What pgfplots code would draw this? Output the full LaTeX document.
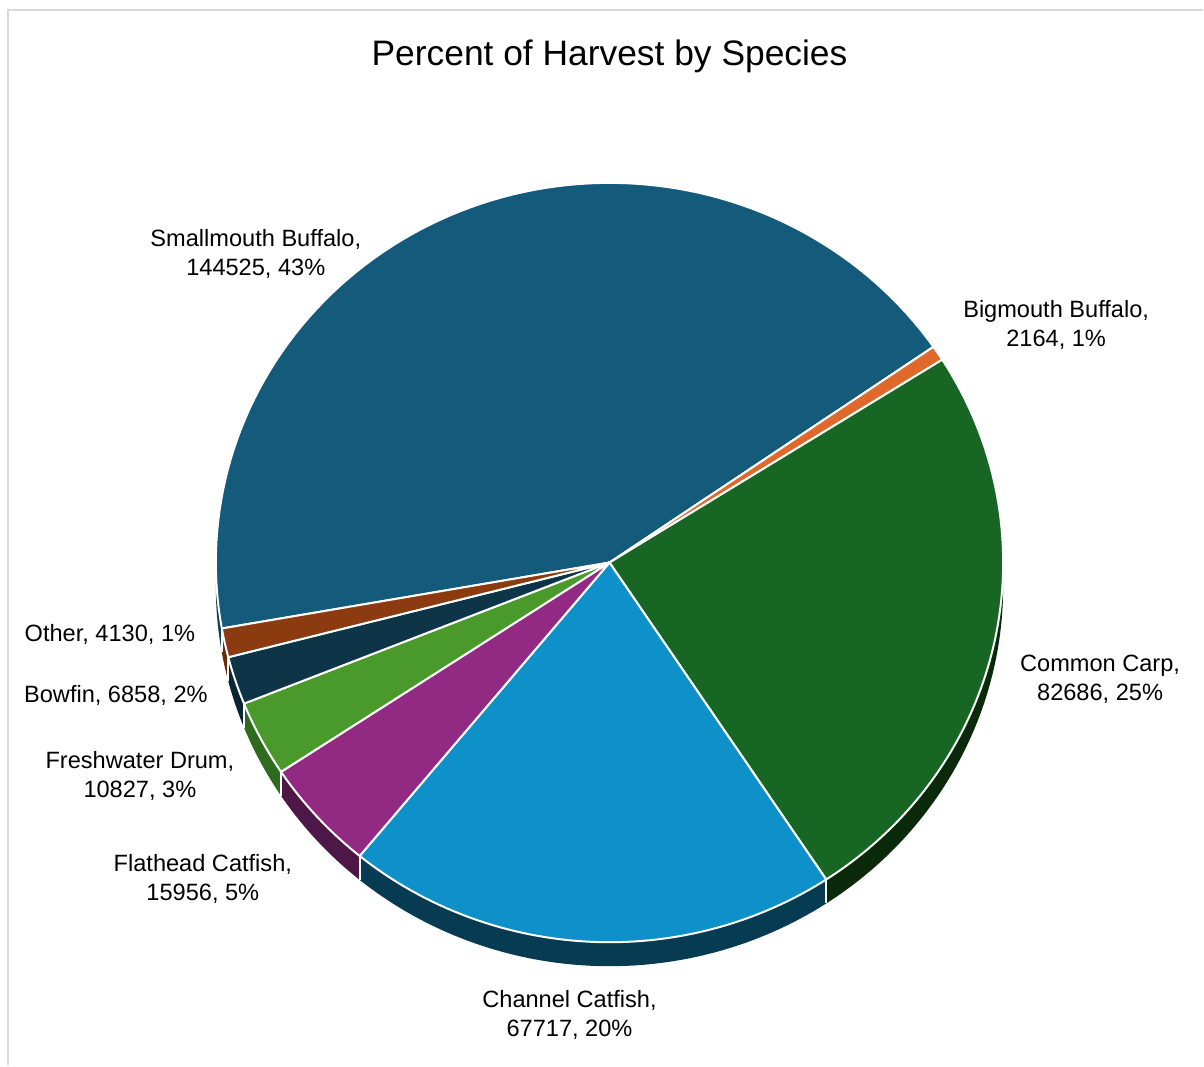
\documentclass[border=0pt]{standalone}
\usepackage{pgfplots}
\pgfplotsset{compat=1.18}
\usepackage{fontspec}
\setmainfont{Liberation Sans}

% ---- data (harvest by species) ----
\def\vSM{144525}  % Smallmouth Buffalo
\def\vBM{2164}    % Bigmouth Buffalo
\def\vCC{82686}   % Common Carp
\def\vCH{67717}   % Channel Catfish
\def\vFC{15956}   % Flathead Catfish
\def\vFD{10827}   % Freshwater Drum
\def\vBF{6858}    % Bowfin
\def\vOT{4130}    % Other
\edef\vTot{\fpeval{\vSM+\vBM+\vCC+\vCH+\vFC+\vFD+\vBF+\vOT}}
% slice boundaries (degrees, clockwise from 190)
\edef\bA{190}
\edef\bB{\fpeval{round(\bA-360*\vSM/\vTot,4)}}
\edef\bC{\fpeval{round(\bB-360*\vBM/\vTot,4)}}
\edef\bD{\fpeval{round(\bC-360*\vCC/\vTot,4)}}
\edef\bE{\fpeval{round(\bD-360*\vCH/\vTot,4)}}
\edef\bF{\fpeval{round(\bE-360*\vFC/\vTot,4)}}
\edef\bG{\fpeval{round(\bF-360*\vFD/\vTot,4)}}
\edef\bH{\fpeval{round(\bG-360*\vBF/\vTot,4)}}
\edef\bI{\fpeval{round(\bH-360*\vOT/\vTot,4)}}

\definecolor{cSM}{HTML}{135A7B}
\definecolor{cBM}{HTML}{E0682A}
\definecolor{cCC}{HTML}{186623}
\definecolor{cCH}{HTML}{0E91C8}
\definecolor{cFC}{HTML}{922983}
\definecolor{cFD}{HTML}{4A9A2B}
\definecolor{cBF}{HTML}{0E3447}
\definecolor{cOT}{HTML}{8C3A10}
\definecolor{wSM}{HTML}{0D3E55}
\definecolor{wCC}{HTML}{0B2A0C}
\definecolor{wCH}{HTML}{063B52}
\definecolor{wFC}{HTML}{4D1747}
\definecolor{wFD}{HTML}{2F6B1F}
\definecolor{wBF}{HTML}{0A2535}
\definecolor{wOT}{HTML}{6B2A08}
\definecolor{frame}{HTML}{D9D9D9}

\def\cx{610}\def\cy{563}\def\rx{394}\def\ry{380}\def\dep{24}

\newcommand\pieslice[3]{% color, end angle, start angle
  \addplot[fill=#1, draw=white, line width=1pt, line join=round, domain=0:100, samples=101]
  ({\cx + ((x<0.5||x>99.5)?0:1)*\rx*cos(#2+(#3-#2)*min(max((x-2)/96,0),1))},
   {\cy - ((x<0.5||x>99.5)?0:1)*\ry*sin(#2+(#3-#2)*min(max((x-2)/96,0),1))});
}
\newcommand\piewall[3]{% color, lo, hi
  \addplot[fill=#1, draw=none, domain=0:201, samples=202]
  ({\cx + \rx*cos((x<100.5) ? (#2+(#3-#2)*x/100) : (#3-(#3-#2)*(x-101)/100))},
   {\cy - \ry*sin((x<100.5) ? (#2+(#3-#2)*x/100) : (#3-(#3-#2)*(x-101)/100)) + ((x>100.5) ? \dep : 0)});
}
\newcommand\wallsep[1]{%
  \addplot[white, line width=1pt, domain=0:1, samples=2]
  ({\cx+\rx*cos(#1)},{\cy-\ry*sin(#1)+\dep*x});
}

\begin{document}
\begin{tikzpicture}
\begin{axis}[
  hide axis, x=0.5pt, y=0.5pt,
  xmin=0, xmax=1204, ymin=0, ymax=1066,
  y dir=reverse, clip=false,
]
\path (axis cs:0,0) rectangle (axis cs:1204,1066);
\draw[frame, line width=1pt] (axis cs:8,1066) -- (axis cs:8,10) -- (axis cs:1204,10);

% side walls
\piewall{wSM}{180}{\bA}
\piewall{wCC}{\bD}{0}
\piewall{wCH}{\bE}{\bD}
\piewall{wFC}{\bF}{\bE}
\piewall{wFD}{\bG}{\bF}
\piewall{wBF}{\bH}{\bG}
\piewall{wOT}{\bI}{\bH}
\wallsep{\bD}\wallsep{\bE}\wallsep{\bF}\wallsep{\bG}\wallsep{\bH}\wallsep{\bI}

% top faces
\pieslice{cSM}{\bB}{\bA}
\pieslice{cBM}{\bC}{\bB}
\pieslice{cCC}{\bD}{\bC}
\pieslice{cCH}{\bE}{\bD}
\pieslice{cFC}{\bF}{\bE}
\pieslice{cFD}{\bG}{\bF}
\pieslice{cBF}{\bH}{\bG}
\pieslice{cOT}{\bI}{\bH}

% labels
\tikzset{lbl/.style={align=center, font=\fontsize{11.8}{14.5}\selectfont, inner sep=0pt}}
\node[font=\fontsize{17.7}{20}\selectfont] at (axis cs:610,56) {Percent of Harvest by Species};
\node[lbl] at (axis cs:256,254) {Smallmouth Buffalo,\\144525, 43\%};
\node[lbl] at (axis cs:1057,325) {Bigmouth Buffalo,\\2164, 1\%};
\node[lbl] at (axis cs:1101,680) {Common Carp,\\82686, 25\%};
\node[lbl] at (axis cs:570,1016) {Channel Catfish,\\67717, 20\%};
\node[lbl] at (axis cs:203,880) {Flathead Catfish,\\15956, 5\%};
\node[lbl] at (axis cs:140,777) {Freshwater Drum,\\10827, 3\%};
\node[lbl] at (axis cs:116,696) {Bowfin, 6858, 2\%};
\node[lbl] at (axis cs:110,635) {Other, 4130, 1\%};
\end{axis}
\end{tikzpicture}
\end{document}
